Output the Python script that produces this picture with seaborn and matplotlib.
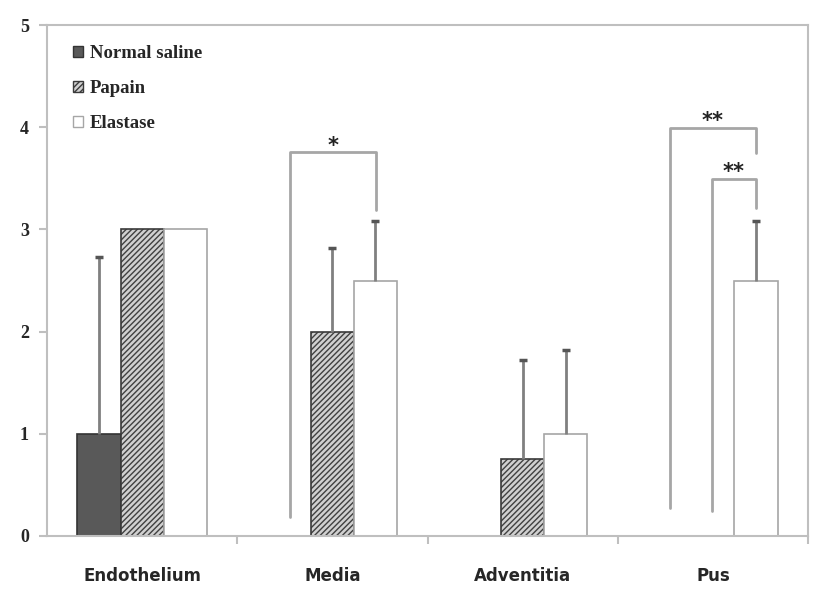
import numpy as np
import pandas as pd
import matplotlib
matplotlib.use("Agg")
import matplotlib.pyplot as plt
import seaborn as sns
from matplotlib.patches import Patch

categories = ["Endothelium", "Media", "Adventitia", "Pus"]
groups = ["Normal saline", "Papain", "Elastase"]
normal_saline = [1.0, np.nan, np.nan, np.nan]
papain = [3.0, 2.0, 0.75, np.nan]
elastase = [3.0, 2.5, 1.0, 2.5]
err_normal_saline = [1.73, 0, 0, 0]
err_papain = [0.0, 0.82, 0.97, 0]
err_elastase = [0.0, 0.58, 0.82, 0.58]
y_ticks = [0, 1, 2, 3, 4, 5]

sns.set_theme(style="white")
plt.rcParams["font.family"] = ["DejaVu Sans"]
plt.rcParams["hatch.color"] = "#404040"
plt.rcParams["hatch.linewidth"] = 1.0

rows = []
for g, vals in zip(groups, [normal_saline, papain, elastase]):
    for c, v in zip(categories, vals):
        rows.append({"cat": c, "group": g, "value": v})
df = pd.DataFrame(rows)

fig = plt.figure(figsize=(8.27, 5.95), dpi=100)
ax = fig.add_axes([47/827, 1-536/595, (808-47)/827, (536-25)/595])

palette = {"Normal saline": "#595959", "Papain": "#d0d0d0", "Elastase": "#ffffff"}
sns.barplot(data=df, x="cat", y="value", hue="group", order=categories,
            hue_order=groups, palette=palette, width=0.68, errorbar=None,
            ax=ax, legend=False, saturation=1)

edgecols = {"Normal saline": "#333333", "Papain": "#3a3a3a", "Elastase": "#a6a6a6"}
errs = [err_normal_saline, err_papain, err_elastase]
vals_all = [normal_saline, papain, elastase]
bar_containers = list(ax.containers)[:3]
for gi, cont in enumerate(bar_containers):
    g = groups[gi]
    for bar in cont:
        xc = bar.get_x() + bar.get_width() / 2
        ci = int(round(xc))
        bar.set_edgecolor(edgecols[g])
        bar.set_linewidth(1.2)
        if g == "Papain":
            bar.set_hatch("//////")
            bar._hatch_color = matplotlib.colors.to_rgba("#404040")
        v = vals_all[gi][ci]
        e = errs[gi][ci]
        if not np.isnan(v) and e > 0:
            ax.errorbar(xc, v, yerr=[[0], [e]], fmt="none", ecolor="#808080",
                        elinewidth=2, capsize=0, zorder=3)
            ax.plot([xc], [v + e], marker="_", ms=6, mew=2.5, color="#555555",
                    zorder=4)

ax.set_ylim(0, 5)
ax.set_xlim(-0.5, 3.5)
ax.set_yticks(y_ticks)
ax.set_yticklabels([str(t) for t in y_ticks], family="Liberation Serif",
                   fontweight="bold", fontsize=13)
ax.set_xticks(range(len(categories)))
ax.set_xticklabels(categories, fontweight="bold", fontsize=12)
ax.set_xticks([0.5, 1.5, 2.5, 3.5], minor=True)
ax.tick_params(axis="x", which="major", length=0, pad=22)
ax.tick_params(axis="x", which="minor", length=6, color="#bfbfbf", width=1.5, direction="out", bottom=True)
ax.tick_params(axis="y", length=6, color="#bfbfbf", width=1.5, direction="out", pad=7, left=True)
ax.set_xlabel("")
ax.set_ylabel("")
for s in ax.spines.values():
    s.set_color("#bfbfbf")
    s.set_linewidth(1.5)

bc = "#a6a6a6"
def bracket(x1, x2, y1, y2, ytop, label, ylab):
    ax.plot([x1, x1, x2, x2], [y1, ytop, ytop, y2], color=bc, lw=2,
            solid_joinstyle="round", zorder=2)
    ax.text((x1 + x2) / 2, ylab, label, ha="center", va="center",
            fontsize=15, fontweight="bold", color="#222222")

bracket(0.779, 1.227, 0.19, 3.19, 3.76, "*", 3.82)
bracket(2.774, 3.227, 0.27, 3.75, 3.99, "**", 4.06)
bracket(2.995, 3.227, 0.245, 3.21, 3.49, "**", 3.56)

handles = [Patch(facecolor=palette[g], edgecolor=edgecols[g],
                 hatch="//////" if g == "Papain" else None) for g in groups]
leg = ax.legend(handles, groups, loc="upper left", bbox_to_anchor=(0.034, 0.96),
                frameon=False, handlelength=0.55, handleheight=0.55,
                handletextpad=0.35, labelspacing=0.95, borderpad=0,
                borderaxespad=0,
                prop={"family": "Liberation Serif", "weight": "bold", "size": 13.5})

fig.savefig("out.png", dpi=100)
